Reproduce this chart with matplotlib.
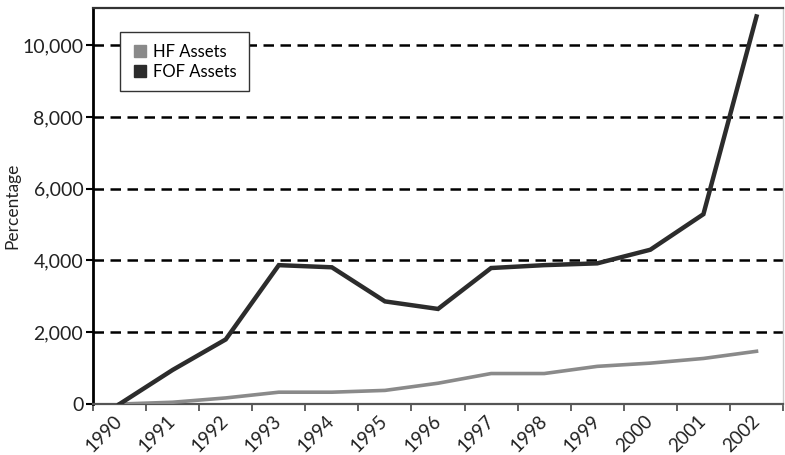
"""HF vs FOF asset growth since 1990 (percentage)."""

import matplotlib

matplotlib.use("Agg")
import matplotlib.pyplot as plt
import numpy as np
from matplotlib.lines import Line2D

years = ["1990", "1991", "1992", "1993", "1994", "1995", "1996",
         "1997", "1998", "1999", "2000", "2001", "2002"]
hf_assets = [0, 50, 170, 330, 330, 380, 580, 850, 850, 1050, 1140, 1270, 1470]
fof_assets = [0, 950, 1800, 3870, 3810, 2860, 2650, 3790, 3870, 3920, 4300, 5290, 10800]
y_ticks = [0, 2000, 4000, 6000, 8000, 10000]

plt.rcParams["font.family"] = ["Lato", "DejaVu Sans"]

fig = plt.figure(figsize=(7.85, 4.55), dpi=100)
ax = fig.add_axes([0.1185, 0.112, 0.879, 0.870])

x = np.arange(len(years))
ax.plot(x, hf_assets, color="#8a8a8a", lw=2.6, solid_joinstyle="miter", zorder=3)
ax.plot(x, fof_assets, color="#2c2c2c", lw=3.2, solid_joinstyle="miter", zorder=4)

ax.set_xlim(-0.5, len(years) - 0.5)
ax.set_ylim(0, 11030)

for v in y_ticks[1:]:
    ax.axhline(v, color="black", lw=1.8, ls=(0, (4.2, 2.6)), zorder=1)

ax.set_yticks(y_ticks)
ax.set_yticklabels([f"{v:,}" for v in y_ticks], fontsize=14, color="#222222")
ax.tick_params(axis="y", length=5, width=1.5, color="black", pad=2)

ax.set_xticks(x)
ax.set_xticklabels(years, rotation=45, ha="right", va="center",
                   rotation_mode="anchor", fontsize=13.5, color="#222222")
ax.tick_params(axis="x", length=0, pad=10)
ax.set_xticks(np.arange(-0.5, len(years)), minor=True)
ax.tick_params(axis="x", which="minor", length=5, width=1.3, color="#555555")

ax.set_ylabel("Percentage", fontsize=12.5, color="#222222")
ax.yaxis.set_label_coords(-0.106, 0.5)

ax.spines["left"].set_linewidth(2.0)
ax.spines["left"].set_color("black")
ax.spines["bottom"].set_linewidth(1.6)
ax.spines["bottom"].set_color("#555555")
ax.spines["top"].set_linewidth(1.6)
ax.spines["top"].set_color("#333333")
ax.spines["right"].set_linewidth(1.0)
ax.spines["right"].set_color("#cccccc")

handles = [
    Line2D([], [], marker="s", ls="none", color="#8a8a8a", markersize=9),
    Line2D([], [], marker="s", ls="none", color="#2c2c2c", markersize=9),
]
leg = ax.legend(handles, ["HF Assets", "FOF Assets"], loc="upper left",
                bbox_to_anchor=(0.039, 0.94), borderaxespad=0, fontsize=12,
                frameon=True, fancybox=False, framealpha=1.0,
                edgecolor="#333333", handletextpad=0.3, handlelength=1.0,
                borderpad=0.7, labelspacing=0.25)
leg.get_frame().set_linewidth(1.0)
leg.set_zorder(10)

fig.savefig("out.png", dpi=100)
